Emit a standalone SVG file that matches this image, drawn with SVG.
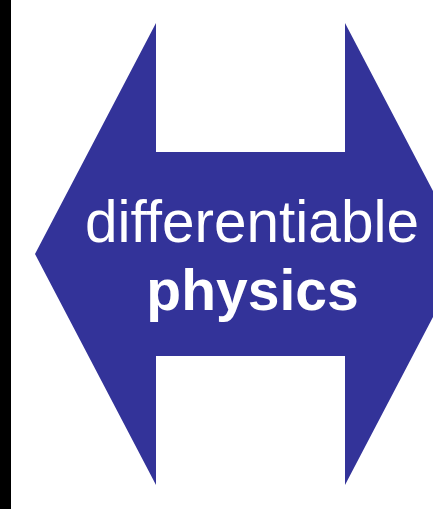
<svg xmlns="http://www.w3.org/2000/svg" width="433" height="509" viewBox="0 0 433 509">
<style>
.lbl{font-family:"Liberation Sans",Arial,sans-serif;fill:#ffffff;text-anchor:middle;font-variant-ligatures:none}
</style>
<rect x="0" y="0" width="433" height="509" fill="#ffffff"/>
<rect x="0" y="0" width="11" height="509" fill="#000000"/>
<g id="arrow">
<polygon points="35,254 156,23 156,152 345,152 345,23 466,254 345,485 345,356 156,356 156,485" fill="#333399"/>
<text class="lbl" x="252" y="241.5" font-size="58.5">differentiable</text>
<text class="lbl" x="252.5" y="310" font-size="57" font-weight="bold">physics</text>
</g>
</svg>
